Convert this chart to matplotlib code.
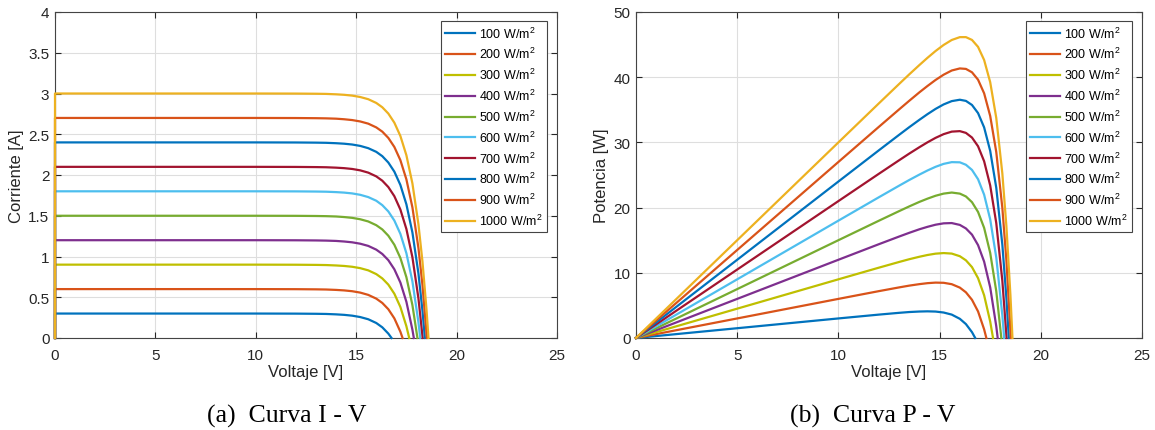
import matplotlib
matplotlib.use('Agg')
import matplotlib.pyplot as plt

plt.rcParams['font.family'] = 'Liberation Sans'
plt.rcParams['mathtext.fontset'] = 'custom'
plt.rcParams['mathtext.rm'] = 'Liberation Sans'
plt.rcParams['mathtext.it'] = 'Liberation Sans'

# irradiancias simuladas y sus tensiones de circuito abierto
irradiancia = [100, 200, 300, 400, 500, 600, 700, 800, 900, 1000]
voc = [16.76, 17.31, 17.64, 17.87, 18.05, 18.19, 18.31, 18.42, 18.52, 18.60]

# rejilla de voltaje comun [V]
voltaje = [0, 0, 5, 10, 12, 13, 13.5, 14, 14.4, 14.8, 15.2, 15.6, 16.0,
           16.3, 16.6, 16.9, 17.2, 17.5, 17.8, 18.1, 18.3, 18.5]

# corriente [A] en cada punto de la rejilla (hasta antes de Voc)
i_100 = [0, .3, .3, .3, .299, .297, .295, .290, .284, .274, .257, .230, .184,
         .131, .054]
i_200 = [0, .6, .6, .6, .599, .597, .595, .590, .584, .574, .557, .529, .483,
         .430, .353, .241, .077]
i_300 = [0, .9, .9, .9, .899, .897, .895, .890, .884, .874, .857, .830, .784,
         .731, .655, .543, .381, .144]
i_400 = [0, 1.2, 1.2, 1.2, 1.199, 1.197, 1.195, 1.191, 1.184, 1.174, 1.157,
         1.130, 1.084, 1.031, .955, .843, .681, .444, .101]
i_500 = [0, 1.5, 1.5, 1.5, 1.499, 1.497, 1.495, 1.491, 1.484, 1.474, 1.457,
         1.430, 1.384, 1.332, 1.255, 1.144, .982, .746, .403]
i_600 = [0, 1.8, 1.8, 1.8, 1.799, 1.797, 1.795, 1.790, 1.784, 1.774, 1.757,
         1.729, 1.684, 1.630, 1.553, 1.441, 1.278, 1.040, .694, .192]
i_700 = [0, 2.1, 2.1, 2.1, 2.099, 2.097, 2.095, 2.090, 2.084, 2.074, 2.057,
         2.029, 1.983, 1.930, 1.852, 1.740, 1.576, 1.337, .990, .485]
i_800 = [0, 2.4, 2.4, 2.4, 2.399, 2.397, 2.395, 2.390, 2.384, 2.374, 2.357,
         2.329, 2.284, 2.231, 2.153, 2.041, 1.878, 1.640, 1.294, .791, .334]
i_900 = [0, 2.7, 2.7, 2.7, 2.699, 2.697, 2.695, 2.691, 2.684, 2.674, 2.657,
         2.630, 2.584, 2.532, 2.455, 2.344, 2.182, 1.946, 1.602, 1.103, .649]
i_1000 = [0, 3, 3, 3, 2.999, 2.997, 2.995, 2.990, 2.984, 2.974, 2.957, 2.930,
          2.884, 2.831, 2.754, 2.642, 2.479, 2.242, 1.896, 1.394, .938, .353]

corrientes = [i_100, i_200, i_300, i_400, i_500, i_600, i_700, i_800, i_900, i_1000]

colores = ['#0072BD', '#D95319', '#BFBF00', '#7E2F8E', '#77AC30',
           '#4DBEEE', '#A2142F', '#0072BD', '#D95319', '#EDB120']

W, H = 1155, 431
fig = plt.figure(figsize=(W / 100, H / 100), dpi=100)
ax1 = fig.add_axes([55 / W, 1 - 339 / H, 502 / W, 326 / H])
ax2 = fig.add_axes([636 / W, 1 - 339 / H, 506 / W, 326 / H])

for g, vo, i, c in zip(irradiancia, voc, corrientes, colores):
    v = voltaje[:len(i)] + [vo]
    i = i + [0]
    p = [a * b for a, b in zip(v, i)]
    lab = '%d W/m$^{2}$' % g
    ax1.plot(v, i, color=c, lw=1.6, label=lab, zorder=3, clip_on=False)
    ax2.plot(v, p, color=c, lw=1.6, label=lab, zorder=3, clip_on=False)

gris = '#262626'
for ax, ymax, ystep, ylab in [(ax1, 4, 0.5, 'Corriente [A]'),
                              (ax2, 50, 10, 'Potencia [W]')]:
    ax.set_xlim(0, 25)
    ax.set_ylim(0, ymax)
    ax.set_xticks(range(0, 26, 5))
    ax.set_yticks([k * ystep for k in range(int(ymax / ystep) + 1)])
    ax.yaxis.set_major_formatter(matplotlib.ticker.FuncFormatter(lambda x, _: '%g' % x))
    ax.grid(True, color='#dedede', lw=0.8)
    ax.set_axisbelow(True)
    ax.tick_params(direction='in', top=True, right=True, length=4, width=0.8,
                   colors=gris, labelsize=11, labelcolor=gris)
    ax.tick_params(axis='x', pad=7)
    ax.tick_params(axis='y', pad=4)
    for s in ax.spines.values():
        s.set_color('#444444')
        s.set_linewidth(0.8)
    ax.set_xlabel('Voltaje [V]', fontsize=12, color=gris, labelpad=2)
    ax.set_ylabel(ylab, fontsize=12, color=gris, labelpad=3)
    leg = ax.legend(loc='upper right', bbox_to_anchor=(1 - 10 / 502, 1 - 9 / 326),
                    borderaxespad=0, fontsize=9, handlelength=2.4,
                    handletextpad=0.3, labelspacing=0.45, fancybox=False,
                    framealpha=1, edgecolor='#444444', borderpad=0.35)
    leg.get_frame().set_linewidth(0.8)
    leg.set_zorder(5)

fig.text(287 / W, 1 - 416 / H, '(a)  Curva I - V', ha='center', va='center',
         fontsize=18.5, family='Liberation Serif')
fig.text(873 / W, 1 - 416 / H, '(b)  Curva P - V', ha='center', va='center',
         fontsize=18.5, family='Liberation Serif')

fig.savefig('out.png', dpi=100)
